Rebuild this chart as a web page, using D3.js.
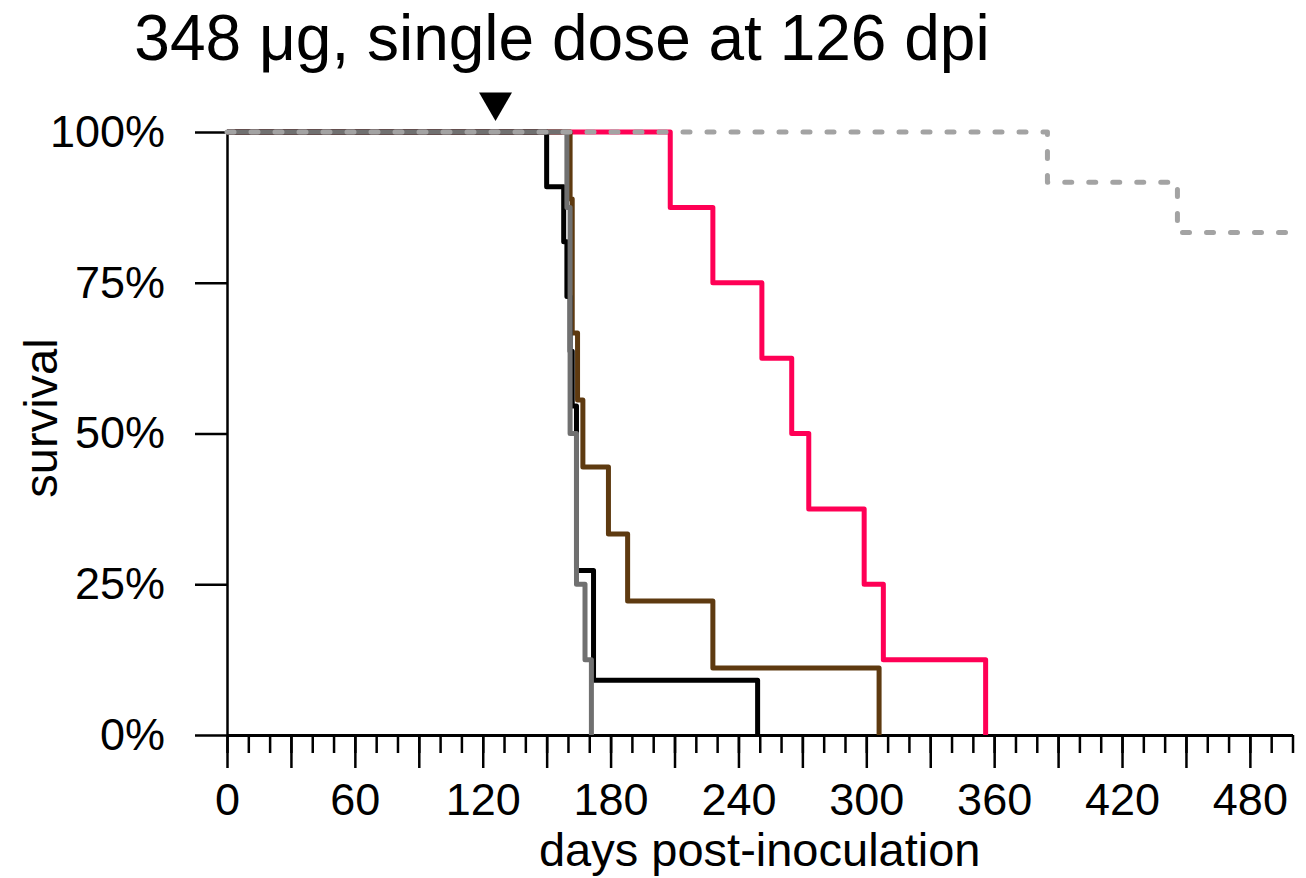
<html>
<head>
  <script src="https://d3js.org/d3.v7.min.js"></script>
  <style>
    body { margin: 0; background: #fff; }
    text { font-family: "Liberation Sans", Arial, sans-serif; }
  </style>
</head>
<body>
<div id="chart"></div>

<script>
// death days, one entry per animal
var blackDeaths  = [150, 158, 159.5, 161, 162, 164, 164, 164, 172, 172, 249];
var grayDeaths   = [159.5, 161, 161, 161, 164, 164, 168, 171];
var brownDeaths  = [161, 162, 162, 164.5, 167, 179, 188, 228, 306];
var pinkDeaths   = [208, 228, 251, 265, 273, 299, 308, 356];
var dottedDeaths = [385, 446];

// group sizes (dotted group has survivors censored at end of study)
var groupSizes = {black: 11, gray: 8, brown: 9, pink: 8, dotted: 12};
var studyEnd = 500;
var doseDay = 126;

var xTicksMinor = d3.range(0, 501, 10);
var xTicksMajor = d3.range(0, 501, 30);
var yTicks = [0, 0.25, 0.5, 0.75, 1];

var titleText = "348 \u03bcg, single dose at 126 dpi";

var width = 1306, height = 878;
var margin = {top: 132, bottom: 143, left: 227, right: 13.5};

var svg = d3.select("#chart").append("svg")
  .attr("width", width)
  .attr("height", height);

var x = d3.scaleLinear().domain([0, studyEnd]).range([margin.left, width - margin.right]);
var y = d3.scaleLinear().domain([0, 1]).range([height - margin.bottom, margin.top]);

// kaplan-meier steps from a list of death days
function kmSteps(deaths, n, end) {
  var pts = [[0, 1]];
  var alive = n;
  deaths.slice().sort(function(a, b) { return a - b; }).forEach(function(t) {
    alive -= 1;
    pts.push([t, alive / n]);
  });
  if (end !== undefined && alive > 0) pts.push([end, alive / n]);
  return pts;
}

var groups = [
  {name: "pink",   deaths: pinkDeaths,   color: "#ff0055", dash: null},
  {name: "brown",  deaths: brownDeaths,  color: "#5e3a10", dash: null},
  {name: "black",  deaths: blackDeaths,  color: "#000000", dash: null},
  {name: "gray",   deaths: grayDeaths,   color: "#707070", dash: null},
  {name: "dotted", deaths: dottedDeaths, color: "#a3a3a3", dash: "7,17"}
];

var line = d3.line()
  .x(function(d) { return x(d[0]); })
  .y(function(d) { return y(d[1]); })
  .curve(d3.curveStepAfter);

// axes
var xMinor = svg.append("g")
  .attr("transform", "translate(0," + y(0) + ")")
  .call(d3.axisBottom(x).tickValues(xTicksMinor).tickSize(18).tickSizeOuter(0).tickFormat(""));
xMinor.select(".domain").attr("stroke-width", 3);
xMinor.selectAll(".tick line").attr("stroke-width", 2.5);

var xMajor = svg.append("g")
  .attr("transform", "translate(0," + y(0) + ")")
  .call(d3.axisBottom(x).tickValues(xTicksMajor).tickSize(33).tickSizeOuter(0).tickPadding(15)
    .tickFormat(function(d) { return d % 60 === 0 ? d : ""; }));
xMajor.select(".domain").remove();
xMajor.selectAll(".tick line").attr("stroke-width", 2.5);
xMajor.selectAll("text").attr("font-size", 45).attr("font-family", "Liberation Sans, Arial, sans-serif").attr("fill", "#000");

var yAxis = svg.append("g")
  .attr("transform", "translate(" + x(0) + ",0)")
  .call(d3.axisLeft(y).tickValues(yTicks).tickSize(32).tickSizeOuter(0).tickPadding(30)
    .tickFormat(d3.format(".0%")));
yAxis.select(".domain").attr("stroke-width", 2.5);
yAxis.selectAll(".tick line").attr("stroke-width", 2.5);
yAxis.selectAll("text").attr("font-size", 45).attr("font-family", "Liberation Sans, Arial, sans-serif").attr("fill", "#000");

// survival curves
groups.forEach(function(g) {
  var end = g.name === "dotted" ? studyEnd : undefined;
  svg.append("path")
    .datum(kmSteps(g.deaths, groupSizes[g.name], end))
    .attr("d", line)
    .attr("fill", "none")
    .attr("stroke", g.color)
    .attr("stroke-width", 5)
    .attr("stroke-linejoin", "round")
    .attr("stroke-linecap", g.dash ? "round" : "butt")
    .attr("stroke-dasharray", g.dash);
});

// dosing marker
svg.append("path")
  .attr("d", d3.symbol().type(d3.symbolTriangle).size(470))
  .attr("transform", "translate(" + x(doseDay) + ",102) rotate(180)")
  .attr("fill", "#000");

// titles
svg.append("text")
  .attr("x", 562)
  .attr("y", 60)
  .attr("text-anchor", "middle")
  .attr("font-size", 64)
  .text(titleText);

svg.append("text")
  .attr("x", (x(0) + x(studyEnd)) / 2)
  .attr("y", 866)
  .attr("text-anchor", "middle")
  .attr("font-size", 47)
  .text("days post-inoculation");

svg.append("text")
  .attr("transform", "translate(57,418) rotate(-90)")
  .attr("text-anchor", "middle")
  .attr("font-size", 47)
  .text("survival");
</script>
</body>
</html>
